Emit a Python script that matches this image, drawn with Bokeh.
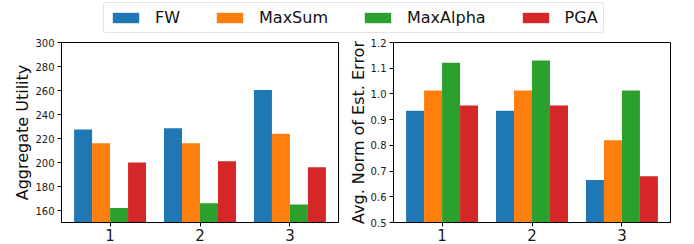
from bokeh.plotting import figure
from bokeh.models import (ColumnDataSource, Range1d, FixedTicker, Legend, LegendItem,
                          NumeralTickFormatter)
from bokeh.layouts import column, row
from bokeh.transform import dodge
from bokeh.embed import file_html
from bokeh.resources import INLINE

# ---- data ----
groups = [1, 2, 3]
series = ["FW", "MaxSum", "MaxAlpha", "PGA"]
colors = ["#1f77b4", "#ff7f0e", "#2ca02c", "#d62728"]

util_FW = [227.5, 228.5, 260.5]
util_MaxSum = [216, 216, 224]
util_MaxAlpha = [162, 166, 165]
util_PGA = [200, 201, 196]

err_FW = [0.935, 0.935, 0.665]
err_MaxSum = [1.013, 1.013, 0.82]
err_MaxAlpha = [1.121, 1.13, 1.013]
err_PGA = [0.955, 0.955, 0.68]

util_ticks = [160, 180, 200, 220, 240, 260, 280, 300]
err_ticks = [0.5, 0.6, 0.7, 0.8, 0.9, 1.0, 1.1, 1.2]

FONT = "DejaVu Sans"
offsets = [-0.3, -0.1, 0.1, 0.3]
bar_w = 0.2


def make_panel(vals, yr, ticks, ylabel, fmt, bl, br):
    src = ColumnDataSource(dict(x=groups, **{s: v for s, v in zip(series, vals)}))
    p = figure(frame_width=277, frame_height=180, output_backend="svg", toolbar_location=None,
               x_range=Range1d(0.46, 3.54), y_range=Range1d(*yr),
               min_border_left=bl, min_border_right=br, min_border_top=8, min_border_bottom=22)
    for s, c, o in zip(series, colors, offsets):
        p.vbar(x=dodge("x", o), top=s, bottom=0, width=bar_w, source=src,
               fill_color=c, line_color=None)
    p.xgrid.visible = False
    p.ygrid.visible = False
    p.outline_line_color = "black"
    p.outline_line_width = 1
    p.xaxis.ticker = FixedTicker(ticks=groups)
    p.yaxis.ticker = FixedTicker(ticks=ticks)
    if fmt:
        p.yaxis.formatter = NumeralTickFormatter(format=fmt)
    for ax in (p.xaxis[0], p.yaxis[0]):
        ax.minor_tick_line_color = None
        ax.major_tick_out = 4
        ax.major_tick_in = 0
        ax.axis_line_color = "black"
        ax.major_tick_line_color = "black"
        ax.major_label_text_font = FONT
        ax.major_label_text_color = "#1a1a1a"
        ax.axis_label_text_font = FONT
        ax.axis_label_text_font_style = "normal"
    p.xaxis.major_label_text_font_size = "15px"
    p.xaxis.major_label_standoff = 2
    p.yaxis.major_label_text_font_size = "10px"
    p.yaxis.major_label_standoff = 3
    p.yaxis.axis_label = ylabel
    p.yaxis.axis_label_text_font_size = "16px"
    p.yaxis.axis_label_standoff = 0
    p.yaxis.axis_label_text_color = "#111111"
    return p


p1 = make_panel([util_FW, util_MaxSum, util_MaxAlpha, util_PGA], (150, 300), util_ticks,
                "Aggregate Utility", None, 61, 7)
p2 = make_panel([err_FW, err_MaxSum, err_MaxAlpha, err_PGA], (0.5, 1.2), err_ticks,
                "Avg. Norm of Est. Error", "0.0", 48, 24)

# legend strip (renderers sit outside its visible range; only the legend shows)
leg_src = ColumnDataSource(dict(x=groups, FW=util_FW, MaxSum=util_MaxSum,
                                MaxAlpha=util_MaxAlpha, PGA=util_PGA))
pl = figure(width=694, height=34, output_backend="svg", toolbar_location=None,
            x_range=Range1d(1000, 1001), y_range=Range1d(1000, 1001),
            x_axis_location=None, y_axis_location=None, min_border=0)
pl.outline_line_color = None
pl.xgrid.visible = False
pl.ygrid.visible = False
items = []
for s, c in zip(series, colors):
    r = pl.vbar(x="x", top=s, width=0.1, source=leg_src, fill_color=c, line_color=None)
    items.append(LegendItem(label=s, renderers=[r]))
leg = Legend(items=items, orientation="horizontal", location=(103, 1),
             label_text_font=FONT, label_text_font_size="16px", label_text_color="#111111",
             glyph_width=33, glyph_height=13, label_standoff=13, spacing=33,
             padding=5, margin=0, label_height=14,
             border_line_color="#cccccc", border_line_width=1, border_radius=3,
             background_fill_alpha=1.0)
pl.add_layout(leg, "center")

layout = column(pl, row(p1, p2, spacing=0), spacing=0)
open("out.html", "w").write(file_html(layout, INLINE))
